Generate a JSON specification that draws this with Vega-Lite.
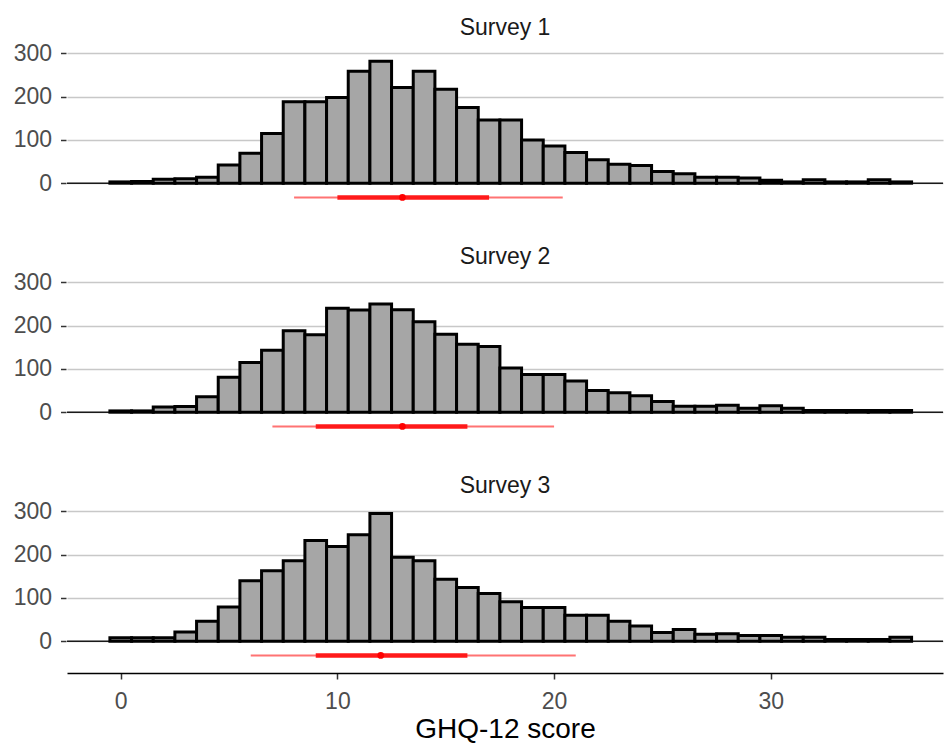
{
  "$schema": "https://vega.github.io/schema/vega-lite/v6.json",
  "padding": {"left": 13, "top": 17, "right": 0, "bottom": 0},
  "background": "white",
  "config": {
    "font": "Liberation Sans",
    "view": {"stroke": null},
    "axisX": {
      "grid": false,
      "domainColor": "#000000",
      "domainWidth": 1.5,
      "tickColor": "#333333",
      "tickWidth": 1.5,
      "tickSize": 6,
      "labelFontSize": 23,
      "labelColor": "#4D4D4D",
      "labelPadding": 11,
      "titleFontSize": 28,
      "titleFontWeight": "normal",
      "titleColor": "#000000",
      "titlePadding": 2
    },
    "axisY": {
      "grid": true,
      "gridColor": "#C8C8C8",
      "gridWidth": 1.5,
      "domain": false,
      "tickColor": "#333333",
      "tickWidth": 1.5,
      "tickSize": 5.5,
      "labelFontSize": 23,
      "labelColor": "#4D4D4D",
      "labelPadding": 9
    },
    "header": {
      "labelFontSize": 23,
      "labelColor": "#1A1A1A",
      "labelPadding": 8,
      "labelFont": "Liberation Sans"
    }
  },
  "data": {
    "values": [
      {"survey": "Survey 1", "score": 0, "n": 3}, {"survey": "Survey 1", "score": 1, "n": 4}, {"survey": "Survey 1", "score": 2, "n": 9}, {"survey": "Survey 1", "score": 3, "n": 10}, {"survey": "Survey 1", "score": 4, "n": 14}, {"survey": "Survey 1", "score": 5, "n": 42}, {"survey": "Survey 1", "score": 6, "n": 69}, {"survey": "Survey 1", "score": 7, "n": 115}, {"survey": "Survey 1", "score": 8, "n": 188}, {"survey": "Survey 1", "score": 9, "n": 188}, {"survey": "Survey 1", "score": 10, "n": 198}, {"survey": "Survey 1", "score": 11, "n": 259}, {"survey": "Survey 1", "score": 12, "n": 282}, {"survey": "Survey 1", "score": 13, "n": 221}, {"survey": "Survey 1", "score": 14, "n": 259}, {"survey": "Survey 1", "score": 15, "n": 217}, {"survey": "Survey 1", "score": 16, "n": 175}, {"survey": "Survey 1", "score": 17, "n": 146}, {"survey": "Survey 1", "score": 18, "n": 146}, {"survey": "Survey 1", "score": 19, "n": 100}, {"survey": "Survey 1", "score": 20, "n": 86}, {"survey": "Survey 1", "score": 21, "n": 71}, {"survey": "Survey 1", "score": 22, "n": 54}, {"survey": "Survey 1", "score": 23, "n": 44}, {"survey": "Survey 1", "score": 24, "n": 41}, {"survey": "Survey 1", "score": 25, "n": 27}, {"survey": "Survey 1", "score": 26, "n": 22}, {"survey": "Survey 1", "score": 27, "n": 14}, {"survey": "Survey 1", "score": 28, "n": 14}, {"survey": "Survey 1", "score": 29, "n": 12}, {"survey": "Survey 1", "score": 30, "n": 7}, {"survey": "Survey 1", "score": 31, "n": 3}, {"survey": "Survey 1", "score": 32, "n": 8}, {"survey": "Survey 1", "score": 33, "n": 3}, {"survey": "Survey 1", "score": 34, "n": 3}, {"survey": "Survey 1", "score": 35, "n": 8}, {"survey": "Survey 1", "score": 36, "n": 3},
      {"survey": "Survey 2", "score": 0, "n": 3}, {"survey": "Survey 2", "score": 1, "n": 3}, {"survey": "Survey 2", "score": 2, "n": 12}, {"survey": "Survey 2", "score": 3, "n": 13}, {"survey": "Survey 2", "score": 4, "n": 36}, {"survey": "Survey 2", "score": 5, "n": 81}, {"survey": "Survey 2", "score": 6, "n": 115}, {"survey": "Survey 2", "score": 7, "n": 143}, {"survey": "Survey 2", "score": 8, "n": 188}, {"survey": "Survey 2", "score": 9, "n": 179}, {"survey": "Survey 2", "score": 10, "n": 240}, {"survey": "Survey 2", "score": 11, "n": 236}, {"survey": "Survey 2", "score": 12, "n": 250}, {"survey": "Survey 2", "score": 13, "n": 237}, {"survey": "Survey 2", "score": 14, "n": 209}, {"survey": "Survey 2", "score": 15, "n": 180}, {"survey": "Survey 2", "score": 16, "n": 157}, {"survey": "Survey 2", "score": 17, "n": 152}, {"survey": "Survey 2", "score": 18, "n": 102}, {"survey": "Survey 2", "score": 19, "n": 87}, {"survey": "Survey 2", "score": 20, "n": 87}, {"survey": "Survey 2", "score": 21, "n": 72}, {"survey": "Survey 2", "score": 22, "n": 50}, {"survey": "Survey 2", "score": 23, "n": 45}, {"survey": "Survey 2", "score": 24, "n": 38}, {"survey": "Survey 2", "score": 25, "n": 25}, {"survey": "Survey 2", "score": 26, "n": 14}, {"survey": "Survey 2", "score": 27, "n": 14}, {"survey": "Survey 2", "score": 28, "n": 16}, {"survey": "Survey 2", "score": 29, "n": 9}, {"survey": "Survey 2", "score": 30, "n": 15}, {"survey": "Survey 2", "score": 31, "n": 9}, {"survey": "Survey 2", "score": 32, "n": 4}, {"survey": "Survey 2", "score": 33, "n": 4}, {"survey": "Survey 2", "score": 34, "n": 4}, {"survey": "Survey 2", "score": 35, "n": 4}, {"survey": "Survey 2", "score": 36, "n": 4},
      {"survey": "Survey 3", "score": 0, "n": 8}, {"survey": "Survey 3", "score": 1, "n": 8}, {"survey": "Survey 3", "score": 2, "n": 8}, {"survey": "Survey 3", "score": 3, "n": 21}, {"survey": "Survey 3", "score": 4, "n": 46}, {"survey": "Survey 3", "score": 5, "n": 79}, {"survey": "Survey 3", "score": 6, "n": 140}, {"survey": "Survey 3", "score": 7, "n": 163}, {"survey": "Survey 3", "score": 8, "n": 186}, {"survey": "Survey 3", "score": 9, "n": 233}, {"survey": "Survey 3", "score": 10, "n": 219}, {"survey": "Survey 3", "score": 11, "n": 246}, {"survey": "Survey 3", "score": 12, "n": 295}, {"survey": "Survey 3", "score": 13, "n": 194}, {"survey": "Survey 3", "score": 14, "n": 186}, {"survey": "Survey 3", "score": 15, "n": 143}, {"survey": "Survey 3", "score": 16, "n": 124}, {"survey": "Survey 3", "score": 17, "n": 110}, {"survey": "Survey 3", "score": 18, "n": 91}, {"survey": "Survey 3", "score": 19, "n": 78}, {"survey": "Survey 3", "score": 20, "n": 78}, {"survey": "Survey 3", "score": 21, "n": 60}, {"survey": "Survey 3", "score": 22, "n": 60}, {"survey": "Survey 3", "score": 23, "n": 46}, {"survey": "Survey 3", "score": 24, "n": 35}, {"survey": "Survey 3", "score": 25, "n": 20}, {"survey": "Survey 3", "score": 26, "n": 27}, {"survey": "Survey 3", "score": 27, "n": 16}, {"survey": "Survey 3", "score": 28, "n": 17}, {"survey": "Survey 3", "score": 29, "n": 13}, {"survey": "Survey 3", "score": 30, "n": 13}, {"survey": "Survey 3", "score": 31, "n": 9}, {"survey": "Survey 3", "score": 32, "n": 9}, {"survey": "Survey 3", "score": 33, "n": 4}, {"survey": "Survey 3", "score": 34, "n": 4}, {"survey": "Survey 3", "score": 35, "n": 4}, {"survey": "Survey 3", "score": 36, "n": 9},
      {"survey": "Survey 1", "lo95": 8, "hi95": 20.4, "lo66": 10, "hi66": 17, "med": 13},
      {"survey": "Survey 2", "lo95": 7, "hi95": 20, "lo66": 9, "hi66": 16, "med": 13},
      {"survey": "Survey 3", "lo95": 6, "hi95": 21, "lo66": 9, "hi66": 16, "med": 12}
    ]
  },
  "facet": {"field": "survey", "type": "nominal", "header": {"title": null}},
  "columns": 1,
  "spacing": 31,
  "spec": {
    "width": 876,
    "height": 167,
    "layer": [
      {
        "transform": [{"filter": "isValid(datum.med)"}],
        "mark": {"type": "rule", "color": "#1A1A1A", "strokeWidth": 1.5},
        "encoding": {
          "y": {"datum": 0, "type": "quantitative", "scale": {"domain": [-73.5, 312.5], "nice": false, "zero": false}, "axis": {"values": [0, 100, 200, 300], "title": null}}
        }
      },
      {
        "transform": [
          {"filter": "isValid(datum.n)"},
          {"bin": {"step": 1, "anchor": -0.5, "extent": [-0.5, 36.5], "nice": false}, "field": "score", "as": ["lo", "hi"]}
        ],
        "mark": {"type": "bar", "fill": "#A6A6A6", "stroke": "#000000", "strokeWidth": 3},
        "encoding": {
          "x": {"field": "lo", "type": "quantitative", "scale": {"domain": [-2.48, 37.95], "nice": false, "zero": false}, "axis": {"values": [0, 10, 20, 30], "title": "GHQ-12 score"}},
          "x2": {"field": "hi"},
          "y": {"field": "n", "type": "quantitative", "title": null, "scale": {"domain": [-73.5, 312.5], "nice": false, "zero": false}},
          "y2": {"datum": 0}
        }
      },
      {
        "transform": [{"filter": "isValid(datum.med)"}],
        "mark": {"type": "rule", "color": "#FF7373", "strokeWidth": 2},
        "encoding": {
          "x": {"field": "lo95", "type": "quantitative", "title": "GHQ-12 score"},
          "x2": {"field": "hi95"},
          "y": {"datum": -33, "type": "quantitative", "scale": {"domain": [-73.5, 312.5], "nice": false, "zero": false}}
        }
      },
      {
        "transform": [{"filter": "isValid(datum.med)"}],
        "mark": {"type": "rule", "color": "#FF1A1A", "strokeWidth": 4.5},
        "encoding": {
          "x": {"field": "lo66", "type": "quantitative", "title": "GHQ-12 score"},
          "x2": {"field": "hi66"},
          "y": {"datum": -33, "type": "quantitative", "scale": {"domain": [-73.5, 312.5], "nice": false, "zero": false}}
        }
      },
      {
        "transform": [{"filter": "isValid(datum.med)"}],
        "mark": {"type": "point", "filled": true, "color": "#FF0000", "opacity": 1, "size": 45},
        "encoding": {
          "x": {"field": "med", "type": "quantitative", "title": "GHQ-12 score"},
          "y": {"datum": -33, "type": "quantitative", "scale": {"domain": [-73.5, 312.5], "nice": false, "zero": false}}
        }
      }
    ]
  }
}
